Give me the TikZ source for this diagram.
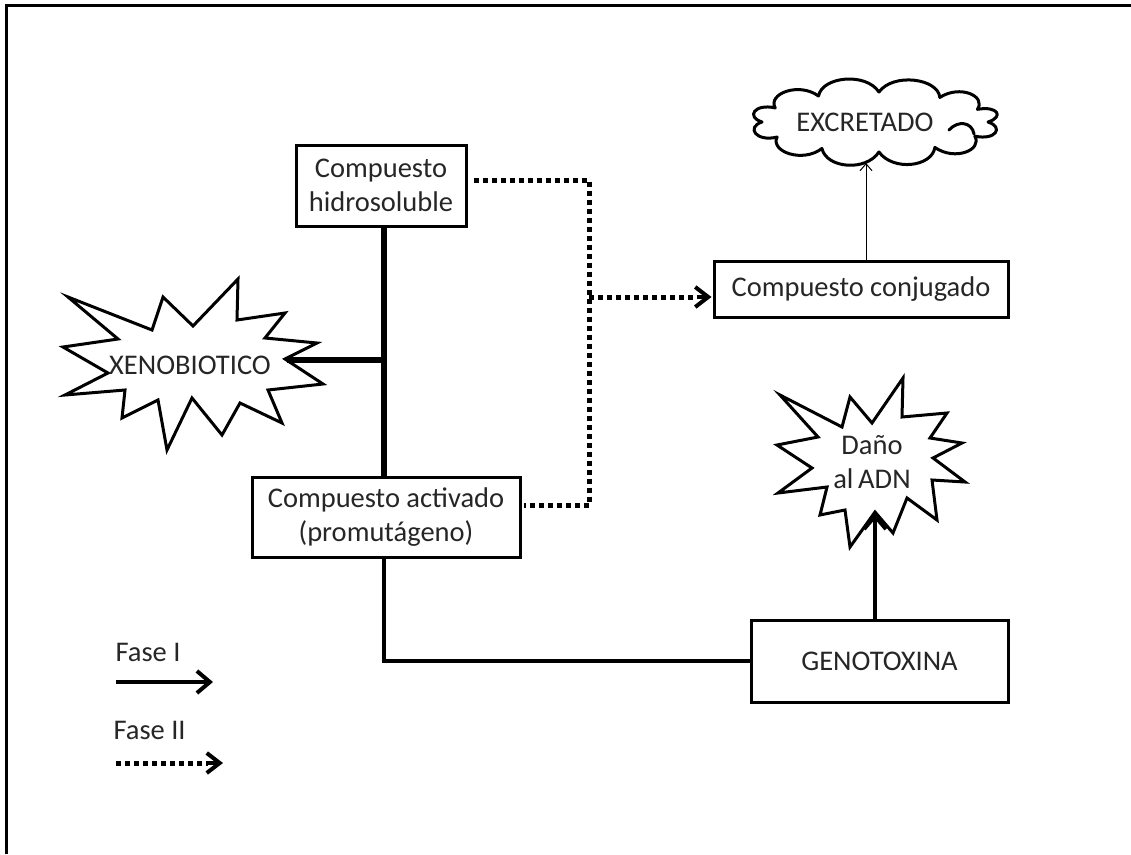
\documentclass[tikz,border=0pt]{standalone}
\usepackage{fontspec}
\setmainfont{Carlito}
\usetikzlibrary{arrows.meta}
\definecolor{txt}{HTML}{262626}
\begin{document}
\begin{tikzpicture}[x=1pt,y=-1pt,
  lbl/.style={font=\fontsize{28.5}{34}\selectfont,text=txt,align=center},
  box/.style={lbl,draw=black,line width=3pt,inner sep=0pt},
  burst/.style={draw=black,line width=3pt,line join=miter,fill=white},
  thickline/.style={line width=6pt},
  midline/.style={line width=4pt},
  dotline/.style={line width=5pt,dash pattern=on 5pt off 4pt},
  bigtip/.style={-{Straight Barb[length=13pt,width=22pt,line width=4pt]}},
  smalltip/.style={-{Straight Barb[length=7pt,width=12pt,line width=1pt]}}
]
\useasboundingbox (0,0) rectangle (1131,854);
% frame
\draw[line width=3pt] (6,854) -- (6,5) -- (1131,5);

% XENOBIOTICO burst
\draw[burst] (68,297) -- (152,330) -- (163,297) -- (193,326) -- (238,279) -- (237,320)
  -- (285,313) -- (265,338) -- (317,343) -- (285,359) -- (323,384) -- (268,390)
  -- (282,423) -- (240,403) -- (222,435) -- (192,398) -- (167,450) -- (158,400)
  -- (122,418) -- (125,390) -- (65,395) -- (108,373) -- (63,347) -- (118,339) -- cycle;
\node[lbl] (xeno) at (190,365) {XENOBIOTICO};
\coordinate (xtip) at (287,360);

% Dano burst
\draw[burst] (780,395) -- (842,427) -- (850,397) -- (872,423) -- (903,378) -- (902,417)
  -- (947,413) -- (930,438) -- (962,443) -- (933,458) -- (965,482) -- (932,480)
  -- (937,520) -- (907,498) -- (893,533) -- (875,512) -- (850,547) -- (845,510)
  -- (820,515) -- (827,487) -- (778,493) -- (812,468) -- (777,445) -- (818,437) -- cycle;
\node[lbl] (dano) at (872,462) {Daño\\al\,ADN};
\coordinate (dbot) at (875,513);

% cloud
\draw[line width=3pt,line join=round,fill=white]
  ({875+113*cos(0)},{122+30*sin(0)})
  \foreach \a/\b in {0/28,28/58,58/88,88/118,118/150,150/180,180/208,208/240,240/272,272/305,305/335,335/360}{
    .. controls ({875+130*cos(\a+6)},{122+50*sin(\a+6)}) and ({875+130*cos(\b-6)},{122+50*sin(\b-6)})
    .. ({875+113*cos(\b)},{122+30*sin(\b)})
  } -- cycle;
\draw[line width=3pt,line cap=round] (949,130) .. controls (958,120) and (972,122) .. (974,134);
\node[lbl] (excr) at (865,122) {EXCRETADO};
\coordinate (cbot) at (866,163);

% boxes
\node[box,minimum width=170,minimum height=81] (hidro) at (381,185.5) {Compuesto\\hidrosoluble};
\node[box,minimum width=268,minimum height=80] (act) at (386,517) {Compuesto activado\\(promutágeno)};
\node[box,minimum width=294,minimum height=56] (conj) at (861,289) {Compuesto conjugado};
\node[box,minimum width=257,minimum height=82] (geno) at (879.5,661) {GENOTOXINA};

% Phase I connectors
\coordinate (j) at (384,360);
\draw[thickline] (hidro.south -| j) -- (act.north -| j);
\draw[thickline] (xtip) -- (j);
\draw[midline] (act.south -| j) -- (j |- geno.west) -- (geno.west);
\draw[midline,bigtip] (geno.north -| dbot) -- (dbot);
\draw[line width=1pt,smalltip] (conj.north -| cbot) -- (cbot);

% Phase II connectors
\coordinate (d1) at (589,180);
\coordinate (d2) at (589,505);
\coordinate (d3) at (589,297);
\draw[dotline] ([xshift=6pt]hidro.east |- d1) -- (d1) -- (d2) -- ([xshift=2pt]act.east |- d2);
\draw[dotline] (d3) -- ([xshift=-16pt]conj.west |- d3);
\draw[line width=4pt,-{Straight Barb[length=13pt,width=20pt,line width=4pt]}]
  ([xshift=-16pt]conj.west |- d3) -- ([xshift=-1pt]conj.west |- d3);

% legend
\node[lbl,anchor=west] (f1) at (112,652) {Fase I};
\node[lbl,anchor=west] (f2) at (110,730) {Fase II};
\coordinate (l1a) at (116,682);
\coordinate (l1b) at (213,682);
\coordinate (l2a) at (116,763);
\coordinate (l2b) at (208,763);
\coordinate (l2c) at (223,763);
\draw[midline,bigtip] (l1a) -- (l1b);
\draw[dotline] (l2a) -- (l2b);
\draw[line width=4pt,-{Straight Barb[length=13pt,width=20pt,line width=4pt]}] (l2b) -- (l2c);
\end{tikzpicture}
\end{document}
